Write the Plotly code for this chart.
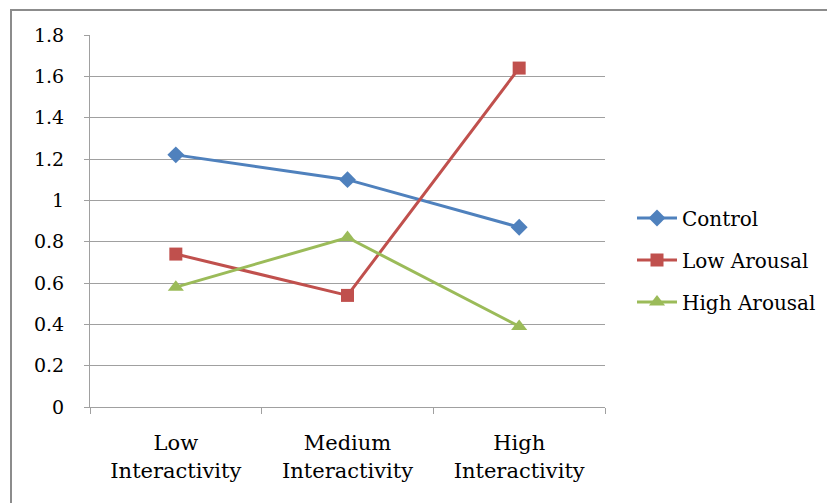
import plotly.graph_objects as go

categories = ["Low<br>Interactivity", "Medium<br>Interactivity", "High<br>Interactivity"]
control = [1.22, 1.10, 0.87]
low_arousal = [0.74, 0.54, 1.64]
high_arousal = [0.58, 0.82, 0.39]
y_ticks = [0, 0.2, 0.4, 0.6, 0.8, 1, 1.2, 1.4, 1.6, 1.8]
y_tick_text = ["0", "0.2", "0.4", "0.6", "0.8", "1", "1.2", "1.4", "1.6", "1.8"]

FONT = "DejaVu Serif"
W, H = 827, 503
ML, MR, MT, MB = 90, 222, 35, 96
PW, PH = W - ML - MR, H - MT - MB

series = [
    ("Control", control, "#4F81BD", "diamond", 13),
    ("Low Arousal", low_arousal, "#C0504D", "square", 13),
    ("High Arousal", high_arousal, "#9BBB59", "triangle-up", 14),
]

fig = go.Figure()
for i, (name, vals, color, symbol, size) in enumerate(series):
    fig.add_trace(go.Scatter(
        x=categories, y=vals, name=name, mode="lines+markers",
        legendgroup=f"g{i}",
        line=dict(color=color, width=3),
        marker=dict(symbol=symbol, size=size, color=color),
    ))

# outer frame around the chart area
def px_x(p):
    return (p - ML) / PW

def px_y(p):
    return (H - MB - p) / PH

fig.add_shape(type="rect", xref="paper", yref="paper",
              x0=px_x(11), x1=px_x(840), y0=px_y(10), y1=px_y(520),
              line=dict(color="#8C8C8C", width=2), layer="below")

fig.update_layout(
    width=W, height=H,
    margin=dict(l=ML, r=MR, t=MT, b=MB, autoexpand=False),
    paper_bgcolor="white", plot_bgcolor="white",
    font=dict(family=FONT, size=20, color="#000000"),
    showlegend=True,
    legend=dict(x=px_x(632), xanchor="left", y=px_y(260), yanchor="middle",
                font=dict(family=FONT, size=20),
                tracegroupgap=13, itemwidth=40,
                bgcolor="rgba(0,0,0,0)"),
    xaxis=dict(
        type="category", range=[-0.5, 2.5],
        showgrid=False, showline=True, linecolor="#A0A0A0",
        linewidth=1, ticks="outside", tickson="boundaries", ticklen=6,
        tickcolor="#A0A0A0", tickfont=dict(family=FONT, size=21),
        ticklabelstandoff=17,
        zeroline=False, fixedrange=True,
    ),
    yaxis=dict(
        range=[0, 1.8], tickvals=y_ticks, ticktext=y_tick_text,
        showgrid=True, gridcolor="#A0A0A0", gridwidth=1,
        showline=True, linecolor="#A0A0A0", linewidth=1,
        ticks="outside", ticklen=5, tickcolor="#A0A0A0",
        ticklabelstandoff=16, tickfont=dict(family=FONT, size=19),
        zeroline=False,
    ),
)

fig.write_html("out.html")
